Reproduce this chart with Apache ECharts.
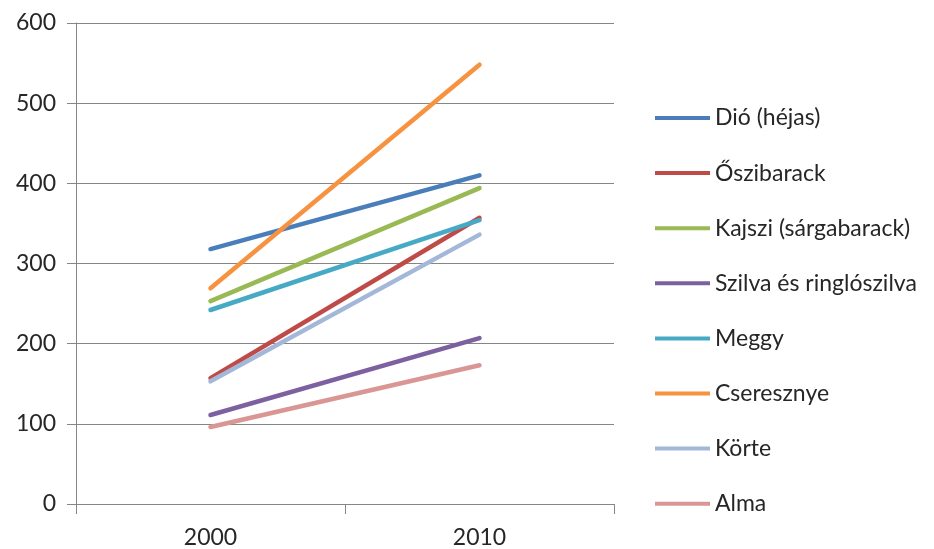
<!DOCTYPE html>
<html><head><meta charset="utf-8">
<script src="https://cdn.jsdelivr.net/npm/echarts@6/dist/echarts.min.js"></script>
<style>html,body{margin:0;padding:0;background:#fff}#c{width:934px;height:549px}</style>
</head><body><div id="c"></div>
<script>
const categories = ['2000', '2010'];
const seriesNames = ['Dió (héjas)', 'Őszibarack', 'Kajszi (sárgabarack)', 'Szilva és ringlószilva', 'Meggy', 'Cseresznye', 'Körte', 'Alma'];
const dio = [318, 410];
const oszibarack = [157, 357];
const kajszi = [253, 394];
const szilva = [111, 207];
const meggy = [242, 354];
const cseresznye = [269, 548];
const korte = [153, 336];
const alma = [96, 173];
const colors = ['#4A7EBB', '#BE4B48', '#98B954', '#7D60A0', '#46AAC5', '#F69240', '#A3B8D8', '#D99694'];
const yTicks = { min: 0, max: 600, interval: 100 };

const values = [dio, oszibarack, kajszi, szilva, meggy, cseresznye, korte, alma];
const font = 'Lato, "Open Sans", sans-serif';
const chart = echarts.init(document.getElementById('c'), null, { renderer: 'canvas' });
chart.setOption({
  animation: false,
  color: colors,
  grid: { left: 76, right: 320, top: 23, bottom: 45, containLabel: false },
  legend: {
    orient: 'vertical', left: 650, top: 100,
    icon: 'rect', itemWidth: 55, itemHeight: 4, itemGap: 29.1,
    textStyle: { fontFamily: font, fontSize: 23, color: '#262626', lineHeight: 26 },
    data: seriesNames
  },
  xAxis: {
    type: 'category', data: categories, boundaryGap: true,
    axisLine: { lineStyle: { color: '#868686', width: 1 } },
    axisTick: { show: true, length: 10, lineStyle: { color: '#868686' } },
    axisLabel: { fontFamily: font, fontSize: 23, color: '#262626', margin: 22 },
    splitLine: { show: false }
  },
  yAxis: {
    type: 'value', min: yTicks.min, max: yTicks.max, interval: yTicks.interval,
    axisLine: { show: true, lineStyle: { color: '#868686', width: 1 } },
    axisTick: { show: true, length: 9, lineStyle: { color: '#868686' } },
    axisLabel: { fontFamily: font, fontSize: 23, color: '#262626', margin: 20 },
    splitLine: { show: true, lineStyle: { color: '#868686', width: 1 } }
  },
  series: seriesNames.map((n, i) => ({
    name: n, type: 'line', data: values[i],
    showSymbol: false, symbol: 'none',
    lineStyle: { width: 4.5, color: colors[i], cap: 'round' },
    itemStyle: { color: colors[i] },
    emphasis: { disabled: true }
  }))
});
</script></body></html>
